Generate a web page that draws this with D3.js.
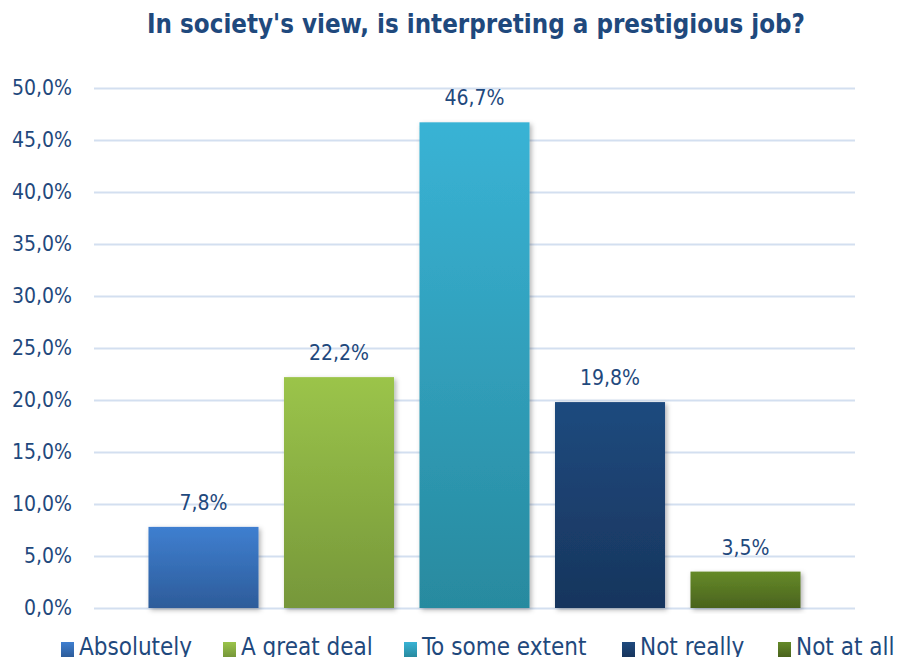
<!DOCTYPE html>
<html>
<head>
<meta charset="utf-8">
<script src="https://cdn.jsdelivr.net/npm/d3@7"></script>
<style>
  body { margin: 0; background: #fff; }
  svg { display: block; font-family: "DejaVu Sans Condensed", "DejaVu Sans", sans-serif; }
</style>
</head>
<body>
<svg id="Viz"></svg>
<script>
// chart data
let categories = ["Absolutely", "A great deal", "To some extent", "Not really", "Not at all"];
let values = [7.8, 22.2, 46.7, 19.8, 3.5];
let yTicks = [0, 5, 10, 15, 20, 25, 30, 35, 40, 45, 50];
let topColors = ["#3f7fd0", "#9bc44a", "#39b3d5", "#1f4a7e", "#658a29"];
let bottomColors = ["#2d5c9a", "#76973a", "#288a9f", "#17355d", "#4a631d"];

let Width = 899, Height = 657;
let margin = {top: 88, right: 44, bottom: 49, left: 94};
let textColor = "#1f497d";

let vizArea = d3.select('#Viz')
  .attr("width", Width)
  .attr("height", Height);

let defs = vizArea.append("defs");
categories.forEach(function(c, i) {
  let g = defs.append("linearGradient")
    .attr("id", "grad" + i)
    .attr("x1", 0).attr("y1", 0).attr("x2", 0).attr("y2", 1);
  g.append("stop").attr("offset", "0%").attr("stop-color", topColors[i]);
  g.append("stop").attr("offset", "100%").attr("stop-color", bottomColors[i]);
});
let shadow = defs.append("filter").attr("id", "shadow")
  .attr("x", "-10%").attr("y", "-10%").attr("width", "125%").attr("height", "125%");
shadow.append("feDropShadow")
  .attr("dx", 2).attr("dy", 2).attr("stdDeviation", 2.5)
  .attr("flood-color", "#000").attr("flood-opacity", 0.3);

let xScale = d3.scaleBand()
  .domain(categories)
  .range([margin.left, Width - margin.right])
  .paddingInner(0.188)
  .paddingOuter(0.402);

let yScale = d3.scaleLinear()
  .domain([0, 50])
  .range([Height - margin.bottom, margin.top]);

// title
vizArea.append("text")
  .attr("x", 476)
  .attr("y", 33)
  .attr("text-anchor", "middle")
  .attr("fill", textColor)
  .attr("font-weight", "bold")
  .attr("font-size", "26px")
  .attr("textLength", 658)
  .attr("lengthAdjust", "spacingAndGlyphs")
  .text("In society's view, is interpreting a prestigious job?");

// gridlines + y labels via axis
let yAxis = vizArea.append("g")
  .attr("transform", "translate(" + margin.left + ",0)")
  .call(d3.axisLeft(yScale)
    .tickValues(yTicks)
    .tickSize(-(Width - margin.left - margin.right))
    .tickPadding(22)
    .tickFormat(function(d) { return d3.format(".1f")(d).replace(".", ",") + "%"; }));
yAxis.select(".domain").remove();
yAxis.selectAll(".tick line")
  .attr("stroke", "#d3dff0")
  .attr("stroke-width", 2);
yAxis.selectAll(".tick text")
  .attr("fill", textColor)
  .attr("font-size", "21px")
  .attr("font-family", "DejaVu Sans Condensed, DejaVu Sans, sans-serif");

// bars
vizArea.selectAll(".bar")
  .data(values)
  .enter()
  .append("rect")
  .attr("class", "bar")
  .attr("x", function(d, i) { return xScale(categories[i]); })
  .attr("y", function(d) { return yScale(d); })
  .attr("width", xScale.bandwidth())
  .attr("height", function(d) { return yScale(0) - yScale(d); })
  .attr("fill", function(d, i) { return "url(#grad" + i + ")"; })
  .attr("filter", "url(#shadow)");

// value labels
vizArea.selectAll(".lbl")
  .data(values)
  .enter()
  .append("text")
  .attr("class", "lbl")
  .attr("x", function(d, i) { return xScale(categories[i]) + xScale.bandwidth() / 2; })
  .attr("y", function(d) { return yScale(d) - 17; })
  .attr("text-anchor", "middle")
  .attr("fill", textColor)
  .attr("font-size", "21px")
  .text(function(d) { return d3.format(".1f")(d).replace(".", ",") + "%"; });

// legend
let legendX = [61, 223, 404, 622, 778];
let legend = vizArea.selectAll(".legend")
  .data(categories)
  .enter()
  .append("g")
  .attr("class", "legend")
  .attr("transform", function(d, i) { return "translate(" + legendX[i] + ",642)"; });
legend.append("rect")
  .attr("width", 13)
  .attr("height", 15)
  .attr("fill", function(d, i) { return "url(#grad" + i + ")"; });
legend.append("text")
  .attr("x", 18)
  .attr("y", 13)
  .attr("fill", textColor)
  .attr("font-size", "24px")
  .text(function(d) { return d; });
</script>
</body>
</html>
